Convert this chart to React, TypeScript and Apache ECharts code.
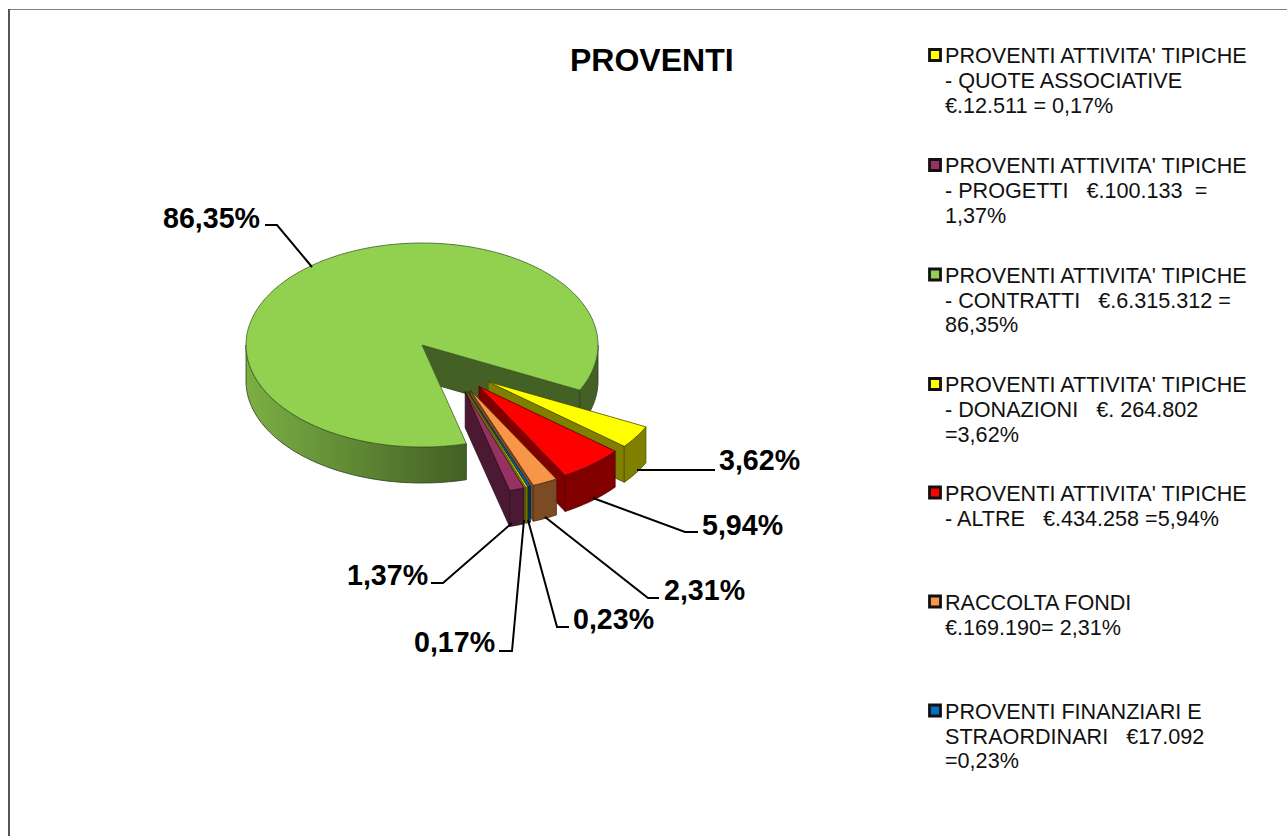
import React, { useEffect, useRef } from "react";
import * as echarts from "echarts";

const sliceNames = ["QUOTE ASSOCIATIVE", "PROGETTI", "CONTRATTI", "DONAZIONI", "ALTRE", "RACCOLTA FONDI", "FINANZIARI E STRAORDINARI"];
const sliceValues = [12511, 100133, 6315312, 264802, 434258, 169190, 17092];
const sliceColors = ["#ffff00", "#953163", "#92d050", "#ffff00", "#ff0000", "#f79646", "#0070c0"];
const drawOrder = [2, 3, 4, 5, 6, 0, 1];
const legendTexts = [
  "PROVENTI ATTIVITA' TIPICHE\n- QUOTE ASSOCIATIVE\n€.12.511 = 0,17%",
  "PROVENTI ATTIVITA' TIPICHE\n- PROGETTI   €.100.133  =\n1,37%",
  "PROVENTI ATTIVITA' TIPICHE\n- CONTRATTI   €.6.315.312 =\n86,35%",
  "PROVENTI ATTIVITA' TIPICHE\n- DONAZIONI   €. 264.802\n=3,62%",
  "PROVENTI ATTIVITA' TIPICHE\n- ALTRE   €.434.258 =5,94%",
  "RACCOLTA FONDI\n€.169.190= 2,31%",
  "PROVENTI FINANZIARI E\nSTRAORDINARI   €17.092\n=0,23%",
];
const legendCenters = [55, 165, 274.5, 384, 492.5, 601.5, 710.5];
const pctLabels = ["0,17%", "1,37%", "86,35%", "3,62%", "5,94%", "2,31%", "0,23%"];
const pctLabelPos = [[414, 642], [347, 575], [163, 218], [719, 460], [702, 525], [664, 590], [573, 619]];
const leaders = [
  [[524, 520], [512, 651], [499, 651]],
  [[512, 523], [443, 583], [431, 583]],
  [[312, 267], [277, 225], [265, 225]],
  [[637, 470], [715, 470]],
  [[593, 498], [685, 532], [698, 532]],
  [[545, 517], [648, 598], [659, 598]],
  [[528, 520], [557, 627], [569, 627]],
];

const CX = 422, CY = 345, RX = 176, RY = 102, DEPTH = 36;
const START_DEG = 69.86, EXPLODE = 0.52;
const total = sliceValues.reduce((a, b) => a + b, 0);

const shade = (hex: string, k: number) => {
  const n = parseInt(hex.slice(1), 16);
  const c = (s: number) => Math.round(((n >> s) & 255) * k);
  return `rgb(${c(16)},${c(8)},${c(0)})`;
};

const rad = (d: number) => (d * Math.PI) / 180;

function renderSlice(_p: any, api: any) {
  const idx = api.value(0);
  const value = api.value(1);
  const before = api.value(2);
  const a0 = START_DEG + (before / total) * 360;
  const a1 = a0 + (value / total) * 360;
  const color = sliceColors[idx];
  const span = a1 - a0;
  let ox = 0, oy = 0;
  if (span < 180) {
    // Exploded slices: direction follows the projected mid angle
    const mid = (a0 + span / 2) % 360;
    const dir = rad(29 + 0.45 * mid);
    ox = EXPLODE * Math.cos(dir) * RX;
    oy = EXPLODE * Math.sin(dir) * RY;
  }
  const ax = CX + ox, ay = CY + oy;
  const pt = (d: number, dz = 0) => [ax + RX * Math.cos(rad(d)), ay + RY * Math.sin(rad(d)) + dz];
  const arc = (from: number, to: number, dz = 0) => {
    const n = Math.max(2, Math.ceil(Math.abs(to - from) / 1.5));
    const out: number[][] = [];
    for (let i = 0; i <= n; i++) out.push(pt(from + ((to - from) * i) / n, dz));
    return out;
  };
  const side = shade(color, span > 180 ? 0.46 : 0.5);
  const edge = shade(color, 0.3);
  const children: any[] = [];
  const poly = (points: number[][], fill: any, stroke: string, lw = 0.8) =>
    children.push({ type: "polygon", shape: { points }, style: { fill, stroke, lineWidth: lw, lineJoin: "round" } });

  // End-angle cut face
  if (Math.cos(rad(a1)) > 0) {
    poly([[ax, ay], pt(a1), pt(a1, DEPTH), [ax, ay + DEPTH]], side, edge);
  }
  // Outer wall: the front half of the rim (0..180 and 360..540 degrees)
  [[0, 180], [360, 540]].forEach(([lo, hi]) => {
    const f = Math.max(a0, lo), t = Math.min(a1, hi);
    if (t <= f) return;
    const fill = t - f > 30
      ? new echarts.graphic.LinearGradient(0, 0, 1, 0, [
          { offset: 0, color: shade(color, 0.84) },
          { offset: 1, color: shade(color, 0.46) },
        ], false)
      : side;
    poly([...arc(f, t), ...arc(t, f, DEPTH)], fill, edge);
  });
  // Top face
  poly([[ax, ay], ...arc(a0, a1)], color, span > 180 ? "#3f5f26" : edge);
  return { type: "group", children };
}

export default function App() {
  const ref = useRef<HTMLDivElement>(null);
  useEffect(() => {
    const chart = echarts.init(ref.current!, undefined, { renderer: "svg" });
    const sliceData: number[][] = [];
    drawOrder.forEach((i) => {
      const before = sliceValues.slice(0, i).reduce((a, b) => a + b, 0);
      sliceData.push([i, sliceValues[i], before]);
    });
    const font = "Liberation Sans, Arial, sans-serif";
    const graphics: any[] = [
      { type: "line", shape: { x1: 8, y1: 9.5, x2: 1287, y2: 9.5 }, style: { stroke: "#7f7f7f", lineWidth: 1 } },
      { type: "line", shape: { x1: 9, y1: 9, x2: 9, y2: 836 }, style: { stroke: "#555555", lineWidth: 2 } },
      { type: "text", x: 570, y: 60, style: { text: "PROVENTI", font: `bold 32px ${font}`, fill: "#000", verticalAlign: "middle" } },
    ];
    leaders.forEach((points) =>
      graphics.push({ type: "polyline", z: 5, shape: { points }, style: { stroke: "#000", lineWidth: 2, fill: "none" } })
    );
    pctLabels.forEach((text, i) =>
      graphics.push({
        type: "text", z: 5, x: pctLabelPos[i][0], y: pctLabelPos[i][1],
        style: { text, font: `bold 28.6px ${font}`, fill: "#000", verticalAlign: "middle" },
      })
    );
    legendTexts.forEach((text, i) => {
      const cy = legendCenters[i];
      graphics.push({
        type: "rect", shape: { x: 929.5, y: cy - 5.5, width: 11, height: 11 },
        style: { fill: sliceColors[i], stroke: "#111", lineWidth: 2.8 },
      });
      graphics.push({
        type: "text", x: 945, y: cy - 11.5,
        style: { text, font: `21.6px ${font}`, lineHeight: 24.7, fill: "#111", verticalAlign: "top" },
      });
    });
    chart.setOption({
      animation: false,
      backgroundColor: "#ffffff",
      graphic: { elements: graphics },
      series: [{
        type: "custom",
        coordinateSystem: "none",
        name: sliceNames.join(", "),
        renderItem: renderSlice,
        data: sliceData,
        silent: true,
      }],
    });
    return () => chart.dispose();
  }, []);
  return <div ref={ref} style={{ position: "absolute", left: 0, top: 0, width: 1287, height: 836, overflow: "hidden" }} />;
}
